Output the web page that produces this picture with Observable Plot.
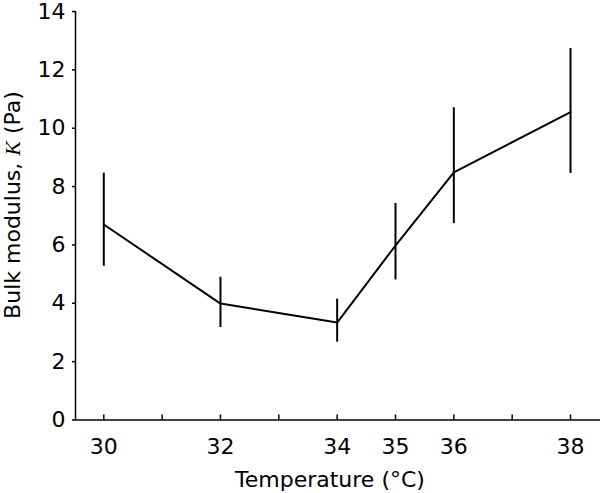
<!DOCTYPE html>
<html>
<head>
<meta charset="utf-8">
<script src="https://cdn.jsdelivr.net/npm/d3@7"></script>
<script src="https://cdn.jsdelivr.net/npm/@observablehq/plot@0.6"></script>
<style>
body { margin: 0; background: #fff; }
svg text { font-family: "DejaVu Sans", "Liberation Sans", Arial, sans-serif; }
</style>
</head>
<body>
<div id="chart"></div>
<script>
const temperature = [30, 32, 34, 35, 36, 38];
const modulus = [6.70, 3.99, 3.34, 5.98, 8.49, 10.55];
const errLow = [5.27, 3.17, 2.67, 4.80, 6.73, 8.45];
const errHigh = [8.46, 4.89, 4.14, 7.42, 10.70, 12.73];
const xTickLabels = [30, 32, 34, 35, 36, 38];
const xTickMarks = [30, 31, 32, 33, 34, 35, 36, 37, 38];
const yTicks = [0, 2, 4, 6, 8, 10, 12, 14];
const xDomain = [29.515, 38.514];
const yDomain = [0, 14];

const data = temperature.map((t, i) => ({t, k: modulus[i], lo: errLow[i], hi: errHigh[i]}));

const plot = Plot.plot({
  width: 600,
  height: 493,
  marginLeft: 75,
  marginRight: 0,
  marginTop: 11,
  marginBottom: 73.5,
  style: {fontFamily: "DejaVu Sans, Liberation Sans, Arial, sans-serif", fontSize: "22px", color: "#000", background: "#fff"},
  x: {domain: xDomain},
  y: {domain: yDomain},
  marks: [
    Plot.axisY({ticks: yTicks, tickSize: 3, tickPadding: 7, label: null, fontSize: 22, strokeWidth: 1.5}),
    Plot.axisX({ticks: xTickLabels, tickSize: 0, tickPadding: 18, label: null, fontSize: 22}),
    Plot.axisX({ticks: xTickMarks, tickSize: -5, tickFormat: () => "", label: null, strokeWidth: 1.5}),
    Plot.ruleY([yDomain[0]], {stroke: "#000", strokeWidth: 1.5}),
    Plot.ruleX([xDomain[0]], {stroke: "#000", strokeWidth: 1.5}),
    Plot.ruleX(data, {x: "t", y1: "lo", y2: "hi", stroke: "#000", strokeWidth: 2}),
    Plot.line(data, {x: "t", y: "k", stroke: "#000", strokeWidth: 2})
  ]
});

const svg = d3.select(plot);
svg.append("text")
  .attr("x", 330).attr("y", 487)
  .attr("text-anchor", "middle")
  .attr("font-size", 22)
  .attr("fill", "#000")
  .text("Temperature (°C)");
const yl = svg.append("text")
  .attr("transform", "translate(20,205) rotate(-90)")
  .attr("text-anchor", "middle")
  .attr("font-size", 22)
  .attr("fill", "#000");
yl.append("tspan").text("Bulk modulus, ");
yl.append("tspan").attr("font-style", "italic").attr("font-family", "Liberation Serif, Times New Roman, serif").text("K");
yl.append("tspan").text(" (Pa)");

document.getElementById("chart").append(plot);
</script>
</body>
</html>
